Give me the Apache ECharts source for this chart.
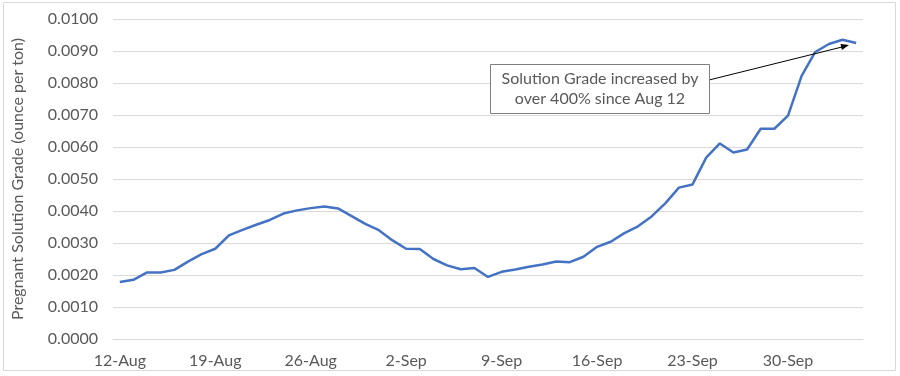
<!DOCTYPE html>
<html>
<head>
<meta charset="utf-8">
<script src="https://cdn.jsdelivr.net/npm/echarts@6/dist/echarts.min.js"></script>
<style>
html,body{margin:0;padding:0;background:#fff;}
#chart{width:900px;height:376px;}
</style>
</head>
<body>
<div id="chart"></div>
<script>
const dates = [
  '12-Aug','13-Aug','14-Aug','15-Aug','16-Aug','17-Aug','18-Aug',
  '19-Aug','20-Aug','21-Aug','22-Aug','23-Aug','24-Aug','25-Aug',
  '26-Aug','27-Aug','28-Aug','29-Aug','30-Aug','31-Aug','1-Sep',
  '2-Sep','3-Sep','4-Sep','5-Sep','6-Sep','7-Sep','8-Sep',
  '9-Sep','10-Sep','11-Sep','12-Sep','13-Sep','14-Sep','15-Sep',
  '16-Sep','17-Sep','18-Sep','19-Sep','20-Sep','21-Sep','22-Sep',
  '23-Sep','24-Sep','25-Sep','26-Sep','27-Sep','28-Sep','29-Sep',
  '30-Sep','1-Oct','2-Oct','3-Oct','4-Oct','5-Oct'
];
const grade = [
  0.00178,0.00185,0.00208,0.00208,0.00216,0.00242,0.00265,
  0.00282,0.00324,0.00341,0.00357,0.00372,0.00392,0.00402,
  0.00409,0.00414,0.00408,0.00384,0.00360,0.00340,0.00308,
  0.00282,0.00281,0.00250,0.00230,0.00218,0.00222,0.00194,
  0.00210,0.00217,0.00226,0.00233,0.00242,0.00240,0.00257,
  0.00288,0.00304,0.00331,0.00352,0.00383,0.00424,0.00473,
  0.00483,0.00567,0.00611,0.00583,0.00592,0.00657,0.00657,
  0.00698,0.00822,0.00897,0.00922,0.00935,0.00925
];
const yTicks = ['0.0000','0.0010','0.0020','0.0030','0.0040','0.0050','0.0060','0.0070','0.0080','0.0090','0.0100'];
const yTitle = 'Pregnant Solution Grade (ounce per ton)';
const noteText = 'Solution Grade increased by\nover 400% since Aug 12';

const FONT = 'Lato';
const TXT = '#595959';
const chart = echarts.init(document.getElementById('chart'), null, {renderer:'canvas'});
chart.setOption({
  animation:false,
  backgroundColor:'#fff',
  grid:{left:113, right:37, top:19, bottom:37},
  xAxis:{
    type:'category',
    data:dates,
    boundaryGap:true,
    axisLine:{show:true, lineStyle:{color:'#d9d9d9', width:1}},
    axisTick:{show:false},
    axisLabel:{interval:6, color:TXT, fontFamily:FONT, fontSize:16, margin:14}
  },
  yAxis:{
    type:'value',
    min:0, max:0.01, interval:0.001,
    name:yTitle,
    nameLocation:'middle',
    nameGap:87,
    nameRotate:90,
    nameTextStyle:{color:TXT, fontFamily:FONT, fontSize:16},
    axisLine:{show:false},
    axisTick:{show:false},
    splitLine:{lineStyle:{color:'#d9d9d9', width:1}},
    axisLabel:{
      color:TXT, fontFamily:FONT, fontSize:16, margin:15,
      formatter:(v)=>{ const i=Math.round(v/0.001); return yTicks[i]!==undefined?yTicks[i]:''; }
    }
  },
  series:[{
    type:'line',
    data:grade,
    showSymbol:false,
    smooth:false,
    lineStyle:{color:'#4472C4', width:2.5},
    itemStyle:{color:'#4472C4'}
  }],
  graphic:[
    {type:'rect', silent:true, z:-1, shape:{x:3.5, y:2.5, width:892, height:368},
     style:{fill:'none', stroke:'#d9d9d9', lineWidth:1}},
    {type:'line', shape:{x1:709, y1:80, x2:842, y2:47}, style:{stroke:'#000', lineWidth:1}, z:100},
    {type:'polygon', shape:{points:[[849,45],[841.9,49.9],[840.5,44.1]]}, style:{fill:'#000'}, z:100},
    {type:'rect', shape:{x:490.5, y:64.5, width:219, height:49}, style:{fill:'#fff', stroke:'#7f7f7f', lineWidth:1}, z:100},
    {type:'text', x:600, y:89, z:101,
     style:{text:noteText, fill:TXT, font:'16px Lato', align:'center', verticalAlign:'middle', lineHeight:20}}
  ]
});
</script>
</body>
</html>
